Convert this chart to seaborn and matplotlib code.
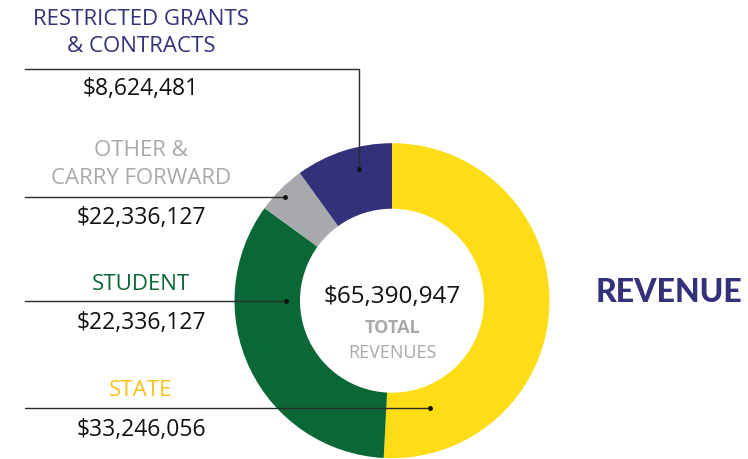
import matplotlib
matplotlib.use("Agg")
import matplotlib.pyplot as plt
import seaborn as sns

# Datos del gráfico
categorias = ["STATE", "STUDENT", "OTHER &\nCARRY FORWARD", "RESTRICTED GRANTS\n& CONTRACTS"]
# valores mostrados en las etiquetas
etiquetas_valor = [33246056, 22336127, 22336127, 8624481]
# tamaño de cada porción
porciones = [33246056, 22336127, 3300000, 6510000]
total = 65390947
colores = ["#FEDD17", "#0B6836", "#A7A9AC", "#33317A"]
colores_texto = ["#F9C21B", "#0B6836", "#A7A9AC", "#33317A"]

sns.set_theme(style="white")
plt.rcParams["font.family"] = ["Open Sans", "DejaVu Sans"]

W, H = 748, 459
fig = plt.figure(figsize=(W / 100, H / 100), dpi=100)
ax = fig.add_axes([0, 0, 1, 1])

def fy(y):
    return H - y

# Dona
cx, cy, r = 392, 300.7, 157.5
ax.pie(porciones, colors=colores, startangle=90, counterclock=False,
       center=(cx, fy(cy)), radius=r,
       wedgeprops=dict(width=r - 92, linewidth=0))
ax.set_xlim(0, W)
ax.set_ylim(0, H)
ax.set_aspect("equal")
ax.axis("off")

# Líneas guía (y de la línea, x final) y posición de los textos
guias = [(408.3, 430), (300.7, 286), (196.7, 285), (69, 359)]
y_titulo = [391, 285, 164.5, 33]
y_valor = [430, 323, 218, 89]
x_txt = 141

for i in range(4):
    yl, xe = guias[i]
    if i == 3:
        ax.plot([25, xe, xe], [fy(yl), fy(yl), fy(169.3)], color="#2b2b2b", lw=1)
        ax.plot([xe], [fy(169.3)], "o", color="#111111", ms=2.5)
    else:
        ax.plot([25, xe], [fy(yl), fy(yl)], color="#2b2b2b", lw=1)
        ax.plot([xe], [fy(yl)], "o", color="#111111", ms=2.5)
    ax.text(x_txt, fy(y_titulo[i]), categorias[i], color=colores_texto[i],
            fontsize=16, ha="center", va="center", linespacing=1.4)
    ax.text(x_txt, fy(y_valor[i]), f"${etiquetas_valor[i]:,}", color="#111111",
            fontsize=16.5, ha="center", va="center")

# Texto central
ax.text(cx, fy(297), f"${total:,}", fontsize=17.5, color="#111111", ha="center", va="center")
ax.text(cx, fy(328), "TOTAL", fontsize=13, color="#A7A9AC", fontweight="bold", ha="center", va="center")
ax.text(cx, fy(353), "REVENUES", fontsize=13, color="#A7A9AC", ha="center", va="center")

# Título lateral
ax.text(669, fy(293), "REVENUE", fontsize=23, color="#33317A", fontweight="black",
        family=["Lato", "DejaVu Sans"], ha="center", va="center")

fig.savefig("out.png", dpi=100)
